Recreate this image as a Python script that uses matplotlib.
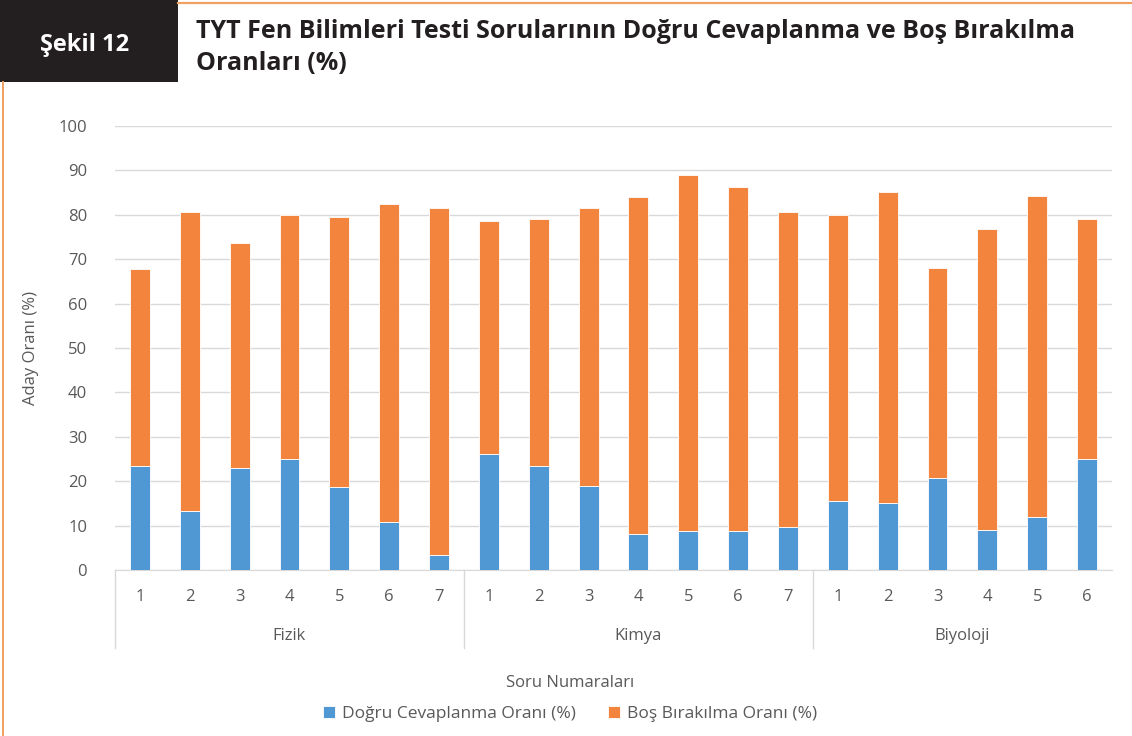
import numpy as np
import matplotlib.pyplot as plt
from matplotlib.patches import Rectangle
from matplotlib.lines import Line2D
from matplotlib.transforms import blended_transform_factory

plt.rcParams['font.family'] = ['Open Sans', 'DejaVu Sans']

# Veriler
gruplar = ['Fizik', 'Kimya', 'Biyoloji']
soru_sayisi = [7, 7, 6]
toplam = [67.9, 80.7, 73.6, 80.0, 79.5, 82.4, 81.5,
          78.6, 79.1, 81.6, 83.9, 88.9, 86.3, 80.6,
          80.0, 85.1, 68.1, 76.7, 84.2, 79.1]
dogru = [23.5, 13.4, 22.9, 25.0, 18.7, 10.8, 3.3,
         26.2, 23.5, 19.0, 8.0, 8.7, 8.7, 9.6,
         15.5, 15.2, 20.8, 8.9, 11.9, 25.0]
bos = [round(t - d, 1) for t, d in zip(toplam, dogru)]
etiketler = [str(i + 1) for n in soru_sayisi for i in range(n)]

mavi = '#5098D3'
turuncu = '#F2843D'
gri_yazi = '#595959'

fig = plt.figure(figsize=(11.32, 7.36), dpi=100)
W, H = 1132, 736

# Başlık kısmı
fig.patches.append(Rectangle((0, 1 - 82 / H), 178 / W, 82 / H, transform=fig.transFigure,
                             facecolor='#231F20', edgecolor='none'))
fig.lines.append(Line2D([178 / W, 1], [1 - 2.5 / H, 1 - 2.5 / H], transform=fig.transFigure,
                        color='#F0A060', lw=1.6))
fig.lines.append(Line2D([3 / W, 3 / W], [0, 1 - 82 / H], transform=fig.transFigure,
                        color='#F0A060', lw=1.4))
fig.text(85 / W, 1 - 45 / H, 'Şekil 12', color='white', fontsize=17, fontweight='bold',
         ha='center', va='center')
fig.text(196 / W, 1 - 31 / H, 'TYT Fen Bilimleri Testi Sorularının Doğru Cevaplanma ve Boş Bırakılma',
         color='#231F20', fontsize=18, fontweight='bold', ha='left', va='center')
fig.text(196 / W, 1 - 64 / H, 'Oranları (%)',
         color='#231F20', fontsize=18, fontweight='bold', ha='left', va='center')

ax = fig.add_axes([115 / W, (H - 570) / H, (1112 - 115) / W, (570 - 126) / H])
x = np.arange(len(toplam))
ax.bar(x, dogru, width=0.4, color=mavi, edgecolor='white', linewidth=0.6, zorder=3,
       label='Doğru Cevaplanma Oranı (%)')
ax.bar(x, bos, width=0.4, bottom=dogru, color=turuncu, edgecolor='white', linewidth=0.6,
       zorder=3, label='Boş Bırakılma Oranı (%)')

ax.set_xlim(-0.5, len(toplam) - 0.5)
ax.set_ylim(0, 100)
ax.set_yticks(range(0, 101, 10))
ax.grid(axis='y', color='#D9D9D9', lw=1, zorder=0)
for s in ['top', 'right', 'left']:
    ax.spines[s].set_visible(False)
ax.spines['bottom'].set_color('#D9D9D9')
ax.tick_params(axis='y', length=0, labelsize=12, labelcolor=gri_yazi, pad=20)
ax.set_xticks(x)
ax.set_xticklabels(etiketler)
ax.tick_params(axis='x', length=0, labelsize=12, labelcolor=gri_yazi, pad=14)
ax.set_ylabel('Aday Oranı (%)', fontsize=12, color=gri_yazi, labelpad=14)

# Grup ayraçları ve etiketleri
tr = blended_transform_factory(ax.transData, ax.transAxes)
sinirlar = np.concatenate([[0], np.cumsum(soru_sayisi)]) - 0.5
for s in sinirlar[:-1]:
    ax.plot([s, s], [0, -78 / 444], transform=tr, color='#D9D9D9', lw=1, clip_on=False)
for g, a, b in zip(gruplar, sinirlar[:-1], sinirlar[1:]):
    ax.text((a + b) / 2, -66 / 444, g, transform=tr, ha='center', va='center',
            fontsize=12, color=gri_yazi)

fig.text(570 / W, 1 - 683 / H, 'Soru Numaraları', ha='center', va='center',
         fontsize=12, color=gri_yazi)
fig.legend(loc='center', bbox_to_anchor=(570 / W, 1 - 714 / H), ncol=2, frameon=False,
           fontsize=12.5, labelcolor=gri_yazi, handlelength=0.7, handleheight=0.7,
           handletextpad=0.4, columnspacing=1.8)

fig.savefig('out.png', dpi=100)
